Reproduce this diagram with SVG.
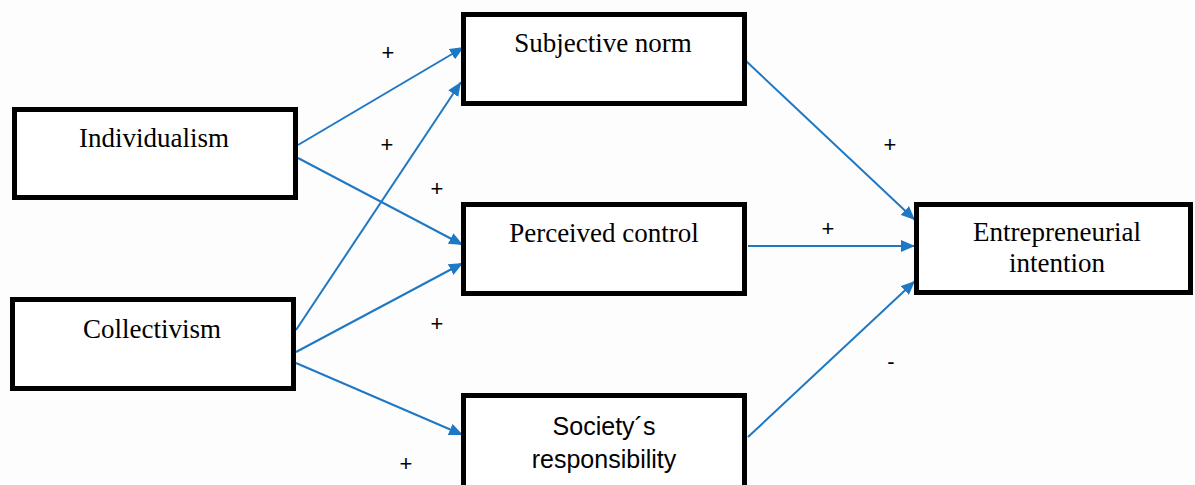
<svg xmlns="http://www.w3.org/2000/svg" width="1195" height="485" viewBox="0 0 1195 485">
<style>
.box{fill:#ffffff;stroke:#000000;stroke-width:5}
.lbl{font-family:"Liberation Serif","Times New Roman",serif;font-size:27px;fill:#000;text-anchor:middle}
.sans{font-family:"Liberation Sans",Arial,sans-serif;font-size:25px;fill:#000;text-anchor:middle}
.sign{font-family:"Liberation Sans",Arial,sans-serif;font-size:22px;fill:#000;text-anchor:middle}
.arr{stroke:#1f78c4;stroke-width:2;fill:none;marker-end:url(#ah)}
</style>
<defs>
<marker id="ah" markerUnits="userSpaceOnUse" markerWidth="16" markerHeight="12" refX="14" refY="6" orient="auto">
<path d="M0,0 L14,6 L0,12 Z" fill="#1f78c4"/>
</marker>
</defs>
<rect width="1195" height="485" fill="#fdfdfd"/>
<g id="connectors">
<line class="arr" x1="298" y1="145" x2="464" y2="47"/>
<line class="arr" x1="298" y1="158" x2="463" y2="245"/>
<line class="arr" x1="296" y1="330" x2="461" y2="82"/>
<line class="arr" x1="296" y1="352" x2="463" y2="263"/>
<line class="arr" x1="296" y1="363" x2="463" y2="435"/>
<line class="arr" x1="746" y1="61" x2="915" y2="220"/>
<line class="arr" x1="748" y1="246" x2="915" y2="246"/>
<line class="arr" x1="748" y1="437" x2="915" y2="281"/>
<text class="sign" x="388" y="60">+</text>
<text class="sign" x="387" y="152">+</text>
<text class="sign" x="437" y="196">+</text>
<text class="sign" x="437" y="331">+</text>
<text class="sign" x="406" y="471">+</text>
<text class="sign" x="890" y="152">+</text>
<text class="sign" x="828" y="236">+</text>
<text class="sign" x="891" y="369">-</text>
</g>
<g id="individualism">
<rect class="box" x="14.5" y="109.5" width="281" height="88"/>
<text class="lbl" x="154" y="147">Individualism</text>
</g>
<g id="collectivism">
<rect class="box" x="12.5" y="299.5" width="281" height="89"/>
<text class="lbl" x="152" y="338">Collectivism</text>
</g>
<g id="subjective-norm">
<rect class="box" x="463.5" y="14.5" width="281" height="89"/>
<text class="lbl" x="603" y="52">Subjective norm</text>
</g>
<g id="perceived-control">
<rect class="box" x="463.5" y="204.5" width="281" height="89"/>
<text class="lbl" x="604" y="242">Perceived control</text>
</g>
<g id="society-responsibility">
<rect class="box" x="463.5" y="395.5" width="281" height="100"/>
<text class="sans" x="604" y="435">Society´s</text>
<text class="sans" x="604" y="468">responsibility</text>
</g>
<g id="entrepreneurial-intention">
<rect class="box" x="916.5" y="204.5" width="274" height="88"/>
<text class="lbl" x="1057" y="241">Entrepreneurial</text>
<text class="lbl" x="1057" y="272">intention</text>
</g>
</svg>
